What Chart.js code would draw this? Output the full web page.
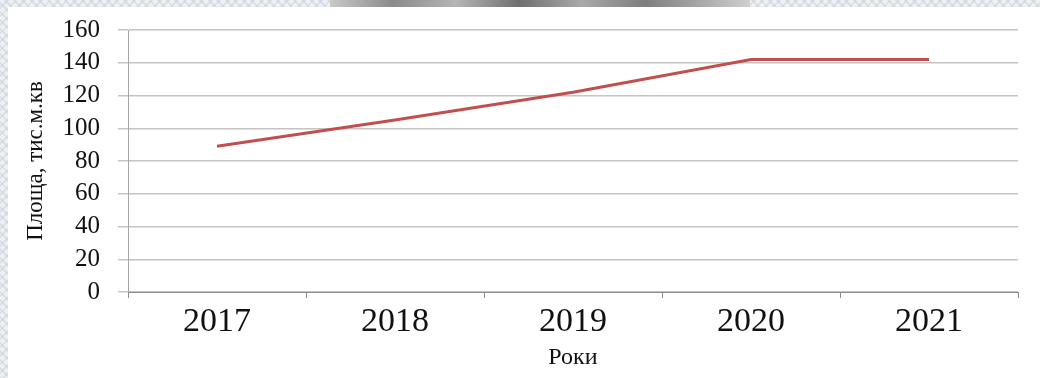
<!DOCTYPE html>
<html lang="uk">
<head>
<meta charset="utf-8">
<title>Площа, тис.м.кв</title>
<script src="https://cdn.jsdelivr.net/npm/chart.js@4/dist/chart.umd.min.js"></script>
<style>
  html, body { margin: 0; padding: 0; }
  body {
    width: 1040px; height: 378px; overflow: hidden; position: relative;
    background-color: #eef1f4;
    background-image:
      repeating-linear-gradient(45deg, rgba(196,205,216,0.45) 0 2px, transparent 2px 6px),
      repeating-linear-gradient(-45deg, rgba(196,205,216,0.45) 0 2px, transparent 2px 6px);
  }
  #strip {
    position: absolute; left: 330px; top: 0; width: 420px; height: 7px;
    background: linear-gradient(90deg, #c9c9c9 0%, #8a8a8a 15%, #b5b5b5 30%, #6f6f6f 45%, #a9a9a9 60%, #7d7d7d 75%, #cfcfcf 100%);
  }
  #frame {
    position: absolute; left: 8px; top: 7px; width: 1032px; height: 371px;
    background: #ffffff;
  }
</style>
</head>
<body>
<div id="strip"></div>
<div id="frame"><canvas id="chart" width="1032" height="371"></canvas></div>
<script>
// Years on the horizontal axis
const years = ['2017', '2018', '2019', '2020', '2021'];
// Area, thousand square metres
const areaValues = [89, 105, 122, 142, 142];
// Vertical axis range and step
const yMin = 0;
const yMax = 160;
const yStep = 20;

const serif = "'Liberation Serif', 'Times New Roman', serif";

new Chart(document.getElementById('chart'), {
  type: 'line',
  data: {
    labels: years,
    datasets: [{
      label: 'Площа',
      data: areaValues,
      borderColor: '#c0504d',
      borderWidth: 3,
      pointRadius: 0,
      pointHoverRadius: 0,
      tension: 0,
      fill: false
    }]
  },
  options: {
    responsive: false,
    animation: false,
    layout: { padding: { top: 23, right: 22, left: 0, bottom: 0 } },
    plugins: {
      legend: { display: false },
      tooltip: { enabled: false }
    },
    scales: {
      x: {
        offset: true,
        grid: {
          offset: true,
          drawOnChartArea: false,
          drawTicks: true,
          tickLength: 6,
          color: '#8c8c8c',
          lineWidth: 1
        },
        border: { color: '#8c8c8c', width: 1 },
        ticks: {
          color: '#111111',
          font: { family: serif, size: 34 },
          padding: 4,
          maxRotation: 0,
          autoSkip: false
        },
        title: {
          display: true,
          text: 'Роки',
          color: '#111111',
          font: { family: serif, size: 24 },
          padding: { top: 0, bottom: 6 }
        },
        afterFit(scale) { scale.height = 86; }
      },
      y: {
        min: yMin,
        max: yMax,
        ticks: {
          stepSize: yStep,
          color: '#111111',
          font: { family: serif, size: 25 },
          padding: 18,
          autoSkip: false
        },
        grid: {
          color: '#c4c4c4',
          lineWidth: 1.5,
          drawTicks: true,
          tickLength: 10
        },
        border: { color: '#a6a6a6', width: 1 },
        title: {
          display: true,
          text: 'Площа, тис.м.кв',
          color: '#111111',
          font: { family: serif, size: 23 },
          padding: { top: 14, bottom: 0 }
        },
        afterFit(scale) {
          scale.width = 120;
          // keep the label gap from pushing the plot area inward
          scale.paddingTop = 0;
          scale.paddingBottom = 0;
        }
      }
    }
  }
});
</script>
</body>
</html>
